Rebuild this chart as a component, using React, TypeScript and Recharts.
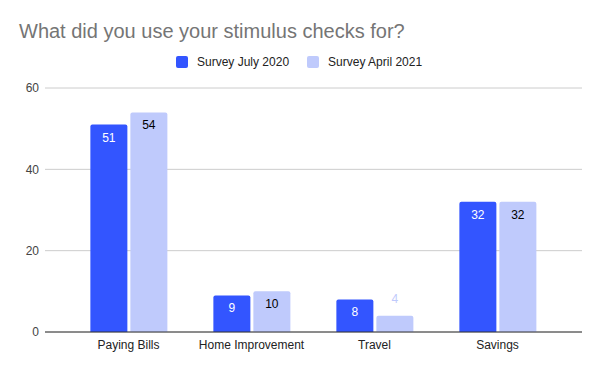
import { Bar, BarChart, CartesianGrid, LabelList, XAxis, YAxis } from "recharts";

const categories = ["Paying Bills", "Home Improvement", "Travel", "Savings"];
const july2020 = [51, 9, 8, 32];
const april2021 = [54, 10, 4, 32];
const yTicks = [0, 20, 40, 60];

const BLUE = "#3355ff";
const LIGHT = "#bfcafc";
const FONT = "'Liberation Sans', Arial, sans-serif";

const data = categories.map((name, i) => ({
  name,
  july: july2020[i],
  april: april2021[i],
}));

function makeLabel(inside: string, outside: string) {
  return (props: any) => {
    const { x, y, width, height, value } = props;
    const cx = Number(x) + Number(width) / 2;
    const fits = Number(height) > 24;
    return (
      <text
        x={cx}
        y={fits ? Number(y) + 17 : Number(y) - 13}
        textAnchor="middle"
        fontSize={12}
        fontFamily={FONT}
        fill={fits ? inside : outside}
      >
        {value}
      </text>
    );
  };
}

function LegendRow() {
  const items = [
    { label: "Survey July 2020", color: BLUE },
    { label: "Survey April 2021", color: LIGHT },
  ];
  return (
    <div style={{ position: "absolute", top: 55, left: 176, display: "flex", fontFamily: FONT, fontSize: 12, lineHeight: "14px", color: "#222" }}>
      {items.map((it) => (
        <div key={it.label} style={{ display: "flex", alignItems: "center", marginRight: 18 }}>
          <span style={{ width: 12, height: 12, background: it.color, borderRadius: 2, marginRight: 9, display: "inline-block" }} />
          <span>{it.label}</span>
        </div>
      ))}
    </div>
  );
}

export default function App() {
  return (
    <div style={{ position: "absolute", top: 0, left: 0, width: 600, height: 371, background: "#fff" }}>
      <div style={{ position: "absolute", top: 20, left: 19, fontFamily: FONT, fontSize: 20, color: "#757575" }}>
        What did you use your stimulus checks for?
      </div>
      <LegendRow />
      <BarChart
        width={600}
        height={371}
        data={data}
        margin={{ top: 88, right: 18, bottom: 9, left: 0 }}
        barCategoryGap="19%"
        barGap={3}
      >
        <CartesianGrid vertical={false} stroke="#cccccc" />
        <XAxis
          dataKey="name"
          tickLine={false}
          axisLine={{ stroke: "#333333" }}
          padding={{ left: 22, right: 23 }}
          height={30}
          tick={{ fill: "#222", fontSize: 12, fontFamily: FONT }}
          interval={0}
        />
        <YAxis
          domain={[0, 60]}
          ticks={yTicks}
          width={45}
          axisLine={false}
          tickLine={false}
          tickMargin={0}
          tick={{ fill: "#444", fontSize: 12, fontFamily: FONT }}
        />
        <Bar dataKey="july" name="Survey July 2020" fill={BLUE} radius={[2, 2, 0, 0]} isAnimationActive={false}>
          <LabelList dataKey="july" content={makeLabel("#ffffff", BLUE)} />
        </Bar>
        <Bar dataKey="april" name="Survey April 2021" fill={LIGHT} radius={[2, 2, 0, 0]} isAnimationActive={false}>
          <LabelList dataKey="april" content={makeLabel("#000000", LIGHT)} />
        </Bar>
      </BarChart>
    </div>
  );
}
